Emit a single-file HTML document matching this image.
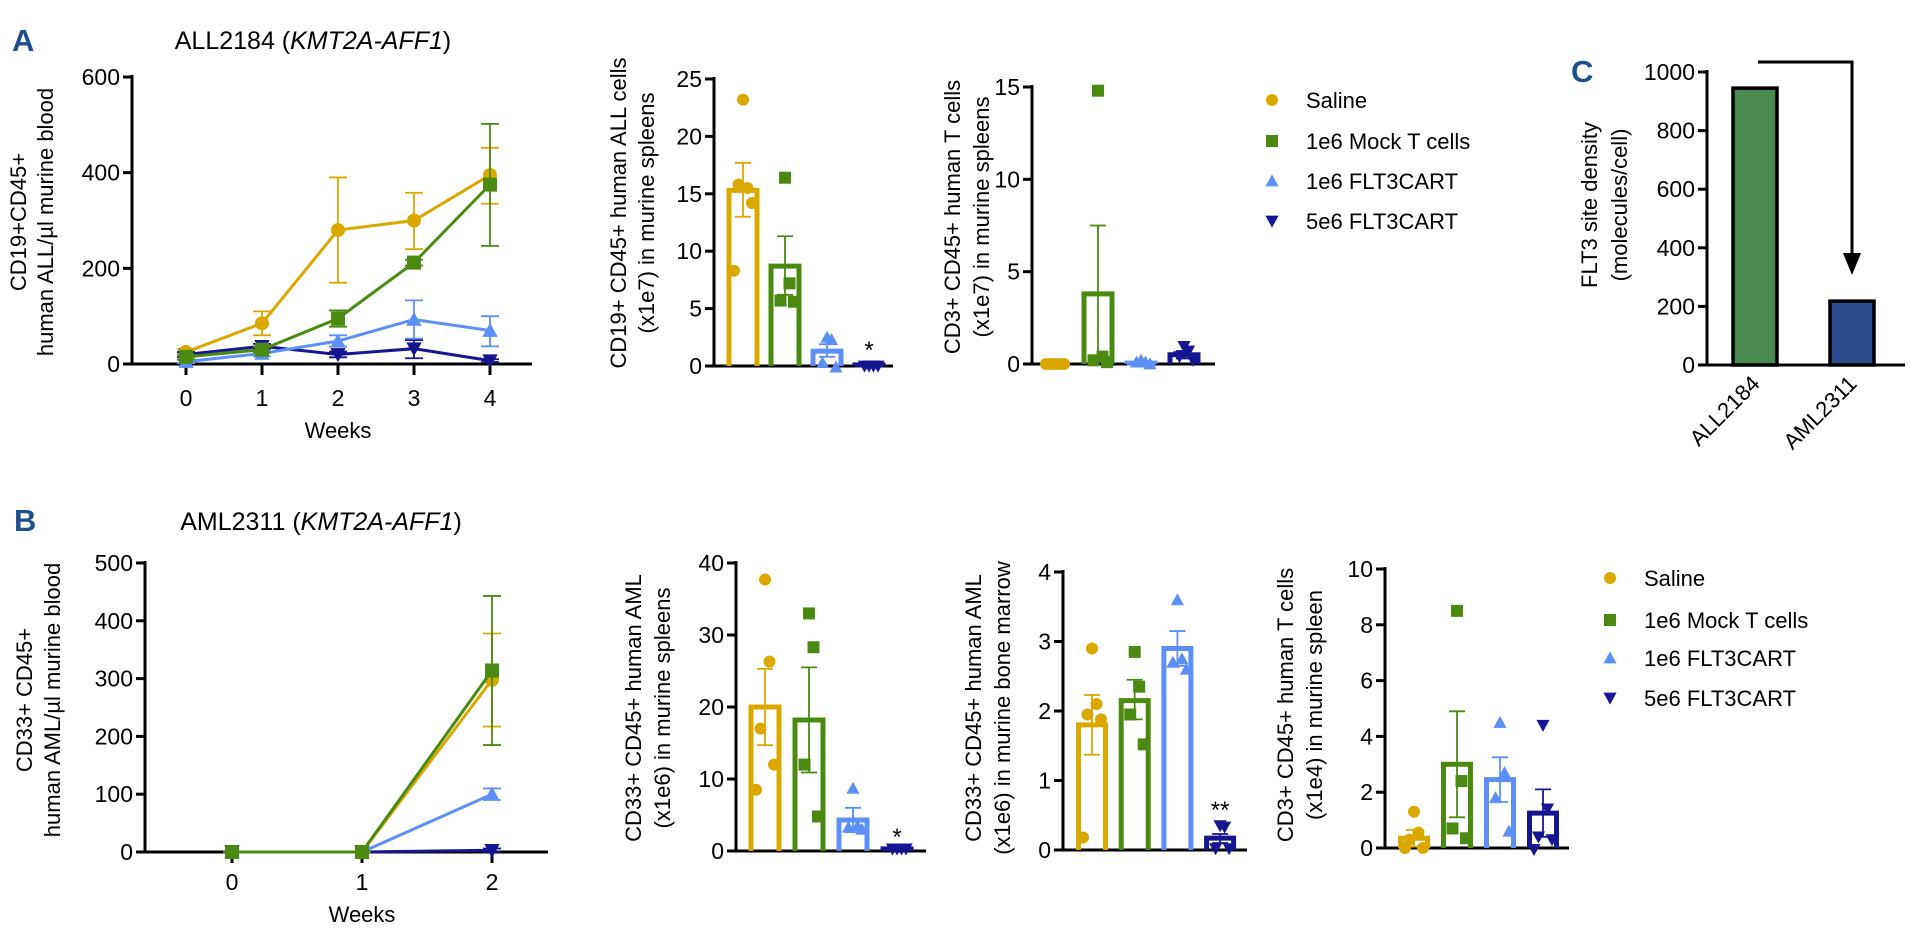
<!DOCTYPE html>
<html><head><meta charset="utf-8"><title>FLT3 CART figure</title>
<style>
html,body{margin:0;padding:0;background:#fff;}
svg{display:block;font-family:"Liberation Sans",Arial,sans-serif;}
</style></head>
<body>
<svg id="fig" width="1915" height="939" viewBox="0 0 1915 939" xmlns="http://www.w3.org/2000/svg">
<text x="12" y="51" font-size="31" font-weight="bold" fill="#1f4e8c">A</text>
<text x="14" y="531" font-size="31" font-weight="bold" fill="#1f4e8c">B</text>
<text x="1571" y="82" font-size="31" font-weight="bold" fill="#1f4e8c">C</text>
<text x="313" y="49" font-size="25" text-anchor="middle">ALL2184 (<tspan font-style="italic">KMT2A-AFF1</tspan>)</text>
<text x="321" y="530" font-size="25" text-anchor="middle">AML2311 (<tspan font-style="italic">KMT2A-AFF1</tspan>)</text>
</svg>
<script>
// ---------- data ----------
const groupNames = ['Saline','1e6 Mock T cells','1e6 FLT3CART','5e6 FLT3CART'];
const groupColors = ['#dba800','#4a8a10','#5c90f5','#161690'];
const groupShapes = ['circle','square','up','down'];

// Panel A line chart
const aWeeks = [0,1,2,3,4];
const aTicks = [0,200,400,600];
const aMean = [[25,85,280,300,395],[15,30,95,212,375],[5,22,48,93,70],[20,37,20,32,7]];
const aHi = [[30,110,390,358,452],[20,36,112,218,502],[8,28,60,133,100],[25,42,26,50,10]];
const aLo = [[20,60,170,240,335],[10,24,78,206,247],[2,16,36,53,37],[15,32,14,12,4]];

// Panel B line chart
const bWeeks = [0,1,2];
const bTicks = [0,100,200,300,400,500];
const bMean = [[0,0,298],[0,0,314],[0,0,100],[0,0,3]];
const bHi = [[0,0,378],[0,0,443],[0,0,110],[0,0,6]];
const bLo = [[0,0,217],[0,0,185],[0,0,90],[0,0,0]];

// Panel A bar 1: ALL cells in spleens (x1e7)
const a1Ticks = [0,5,10,15,20,25];
const a1Mean = [15.3,8.7,1.3,0.1];
const a1Hi = [17.7,11.3,1.9,0.15];
const a1Lo = [13.0,6.2,0.8,0.05];
const a1Pts = [[23.2,15.5,15.8,14.2,8.3],[16.4,7.2,5.7,5.6],[2.5,2.3,0.3,-0.1],[0,0,0,0]];

// Panel A bar 2: T cells in spleens (x1e7)
const a2Ticks = [0,5,10,15];
const a2Mean = [0,3.8,0.05,0.5];
const a2Hi = [0,7.5,0.08,0.7];
const a2Lo = [0,0.2,0.02,0.3];
const a2Pts = [[0,0,0,0,0],[14.8,0.4,0.2,0.1],[0.2,0.1,0.1,0],[0.95,0.7,0.4,0.2]];

// Panel B bar 1: AML in spleens (x1e6)
const b1Ticks = [0,10,20,30,40];
const b1Mean = [20,18.2,4.3,0.3];
const b1Hi = [25.3,25.5,6,0.4];
const b1Lo = [14.7,10.9,2.6,0.2];
const b1Pts = [[37.7,26.3,17,12,8.5],[33,28.3,12,4.8],[8.7,3.5,3.3,3.0],[0.3,0.3,0.3,0.3]];

// Panel B bar 2: AML in bone marrow (x1e6)
const b2Ticks = [0,1,2,3,4];
const b2Mean = [1.8,2.15,2.9,0.17];
const b2Hi = [2.23,2.45,3.15,0.23];
const b2Lo = [1.37,1.88,2.65,0.1];
const b2Pts = [[2.9,2.1,1.95,1.88,0.18],[2.85,2.35,1.95,1.52],[3.6,2.75,2.7,2.6],[0.35,0.33,0.02,0.02]];

// Panel B bar 3: T cells in spleen (x1e4)
const b3Ticks = [0,2,4,6,8,10];
const b3Mean = [0.35,3.0,2.45,1.25];
const b3Hi = [0.65,4.9,3.25,2.1];
const b3Lo = [0.05,1.1,1.65,0.4];
const b3Pts = [[1.3,0.55,0.3,0,0],[8.5,2.4,0.7,0.35],[4.5,2.7,1.8,0.6],[4.4,1.4,0.4,0.3,-0.05]];

// Panel C
const cCats = ['ALL2184','AML2311'];
const cVals = [945,218];
const cTicks = [0,200,400,600,800,1000];
const cColors = ['#4a8a4e','#2a4a8c'];

// ---------- helpers ----------
const NS='http://www.w3.org/2000/svg';
const svg=document.getElementById('fig');
function mk(tag,attrs,parent){const e=document.createElementNS(NS,tag);for(const k in attrs)e.setAttribute(k,attrs[k]);(parent||svg).appendChild(e);return e;}
function scaleY(v,y0,yTop,vmax){return y0-(v/vmax)*(y0-yTop);}

function marker(g,shape,x,y,r,color){
  let e;
  if(shape==='circle'){e=mk('circle',{cx:x,cy:y,r:r,fill:color},g);}
  else if(shape==='square'){e=mk('rect',{x:x-r,y:y-r,width:2*r,height:2*r,fill:color},g);}
  else if(shape==='up'){e=mk('polygon',{points:`${x-r*1.1},${y+r*0.9} ${x+r*1.1},${y+r*0.9} ${x},${y-r*1.1}`,fill:color},g);}
  else {e=mk('polygon',{points:`${x-r*1.1},${y-r*0.9} ${x+r*1.1},${y-r*0.9} ${x},${y+r*1.1}`,fill:color},g);}
  return e;
}

function yAxis(g,ax,y0,yTop,vmax,ticks,xEnd,fs){
  const a=mk('line',{x1:ax,y1:yTop-2,x2:ax,y2:y0,stroke:'#000','stroke-width':3},g);
  
  
  const b=mk('line',{x1:ax-1.5,y1:y0,x2:xEnd,y2:y0,stroke:'#000','stroke-width':3},g);
  
  
  ticks.forEach(t=>{
    const y=scaleY(t,y0,yTop,vmax);
    const tl=mk('line',{x1:ax-9,y1:y,x2:ax,y2:y,stroke:'#000','stroke-width':3},g);
    
    
    const tx=mk('text',{x:ax-12,y:y+8,'font-size':fs||23,'text-anchor':'end'},g);
    tx.textContent=t;
    
    
  });
}

function yLabel(g,lines,xs,cy,fs){
  lines.forEach((s,i)=>{
    const t=mk('text',{x:0,y:0,'font-size':fs||22,'text-anchor':'middle',transform:`translate(${xs[i]},${cy}) rotate(-90)`},g);
    t.textContent=s;
    
    
  });
}

function barChart(name,cfg,ticks,mean,hi,lo,pts){
  const g=mk('g',{});
  
  
  yAxis(g,cfg.ax,cfg.y0,cfg.yTop,cfg.vmax,ticks,cfg.xEnd);
  const w=cfg.bw;
  mean.forEach((m,i)=>{
    const cx=cfg.x0+i*cfg.step, col=groupColors[i];
    const yt=scaleY(m,cfg.y0,cfg.yTop,cfg.vmax);
    const r=mk('path',{d:`M${cx-w/2},${cfg.y0} L${cx-w/2},${yt} L${cx+w/2},${yt} L${cx+w/2},${cfg.y0}`,fill:'none',stroke:col,'stroke-width':5},g);
    
    
    const yh=scaleY(hi[i],cfg.y0,cfg.yTop,cfg.vmax), yl=scaleY(lo[i],cfg.y0,cfg.yTop,cfg.vmax);
    const eb=mk('path',{d:`M${cx},${yl} L${cx},${yh} M${cx-8},${yh} L${cx+8},${yh} M${cx-8},${yl} L${cx+8},${yl}`,stroke:col,'stroke-width':1.8,fill:'none'},g);
    
    
    const n=pts[i].length;
    pts[i].forEach((v,j)=>{
      const dx=n>1?(j%2===0?-1:1)*Math.ceil(j/2)*4.5:0;
      const p=marker(g,groupShapes[i],cx+dx*(j===0?0:1),scaleY(v,cfg.y0,cfg.yTop,cfg.vmax),6,col);
      
      
    });
  });
  (cfg.stars||[]).forEach(s=>{
    const t=mk('text',{x:cfg.x0+s.i*cfg.step,y:s.y,'font-size':24,'text-anchor':'middle'},g);
    t.textContent=s.t;
    
    
  });
  return g;
}

function lineChart(name,cfg,weeks,ticks,mean,hi,lo){
  const g=mk('g',{});
  
  
  yAxis(g,cfg.ax,cfg.y0,cfg.yTop,cfg.vmax,ticks,cfg.xEnd);
  const xs=w=>cfg.x0+(w-weeks[0])*cfg.step;
  weeks.forEach(w=>{
    const tl=mk('line',{x1:xs(w),y1:cfg.y0,x2:xs(w),y2:cfg.y0+11,stroke:'#000','stroke-width':3},g);
    
    
    const t=mk('text',{x:xs(w),y:cfg.tickY,'font-size':23,'text-anchor':'middle'},g);
    t.textContent=w;
    
    
  });
  const wt=mk('text',{x:xs(weeks[Math.floor(weeks.length/2)])+(weeks.length%2?0:-cfg.step/2),y:cfg.titleY,'font-size':22,'text-anchor':'middle'},g);
  wt.textContent='Weeks';
  
  
  const order=[3,2,0,1];
  order.forEach(i=>{
    const col=groupColors[i];
    const pts=weeks.map((w,k)=>xs(w)+','+scaleY(mean[i][k],cfg.y0,cfg.yTop,cfg.vmax)).join(' ');
    const pl=mk('polyline',{points:pts,fill:'none',stroke:col,'stroke-width':3},g);
    
    
    weeks.forEach((w,k)=>{
      const x=xs(w),yh=scaleY(hi[i][k],cfg.y0,cfg.yTop,cfg.vmax),yl=scaleY(lo[i][k],cfg.y0,cfg.yTop,cfg.vmax);
      const eb=mk('path',{d:`M${x},${yl} L${x},${yh} M${x-9},${yh} L${x+9},${yh} M${x-9},${yl} L${x+9},${yl}`,stroke:col,'stroke-width':1.8,fill:'none'},g);
      
      
      const m=marker(g,groupShapes[i],x,scaleY(mean[i][k],cfg.y0,cfg.yTop,cfg.vmax),7,col);
      
      
    });
  });
  return g;
}

function legend(name,x,textX,ys){
  const g=mk('g',{});
  
  
  groupNames.forEach((n,i)=>{
    const m=marker(g,groupShapes[i],x,ys[i],6,groupColors[i]);
    
    
    const t=mk('text',{x:textX,y:ys[i]+8,'font-size':22},g);
    t.textContent=n;
    
    
  });
}

// ---------- panel A ----------
const gA=lineChart('panel-a-line-chart',{ax:132,y0:364,yTop:77,vmax:600,xEnd:532,x0:186,step:76,tickY:406,titleY:438},aWeeks,aTicks,aMean,aHi,aLo);
yLabel(gA,['CD19+CD45+','human ALL/\u00b5l murine blood'],[26,53],222);

const gA1=barChart('panel-a-spleen-all-chart',{ax:714,y0:366,yTop:79,vmax:25,xEnd:893,x0:743,step:42,bw:28,stars:[{i:3,t:'*',y:358}]},a1Ticks,a1Mean,a1Hi,a1Lo,a1Pts);
yLabel(gA1,['CD19+ CD45+ human ALL cells','(x1e7) in murine spleens'],[626,654],213);

const gA2=barChart('panel-a-spleen-tcell-chart',{ax:1032,y0:364,yTop:87,vmax:15,xEnd:1215,x0:1055,step:43,bw:28},a2Ticks,a2Mean,a2Hi,a2Lo,a2Pts);
yLabel(gA2,['CD3+ CD45+ human T cells','(x1e7) in murine spleens'],[960,989],217);

legend('panel-a-legend',1272,1306,[100,141,181,221]);

// ---------- panel B ----------
const gB=lineChart('panel-b-line-chart',{ax:145,y0:852,yTop:563,vmax:500,xEnd:548,x0:232,step:130,tickY:890,titleY:922},bWeeks,bTicks,bMean,bHi,bLo);
yLabel(gB,['CD33+ CD45+','human AML/\u00b5l murine blood'],[32,60],700);

const gB1=barChart('panel-b-spleen-aml-chart',{ax:736,y0:851,yTop:563,vmax:40,xEnd:926,x0:765,step:44,bw:28,stars:[{i:3,t:'*',y:845}]},b1Ticks,b1Mean,b1Hi,b1Lo,b1Pts);
yLabel(gB1,['CD33+ CD45+ human AML','(x1e6) in murine spleens'],[641,670],708);

const gB2=barChart('panel-b-marrow-aml-chart',{ax:1063,y0:850,yTop:572,vmax:4,xEnd:1247,x0:1092,step:42.7,bw:27,stars:[{i:3,t:'**',y:818}]},b2Ticks,b2Mean,b2Hi,b2Lo,b2Pts);
yLabel(gB2,['CD33+ CD45+ human AML','(x1e6) in murine bone marrow'],[981,1010],708);

const gB3=barChart('panel-b-spleen-tcell-chart',{ax:1385,y0:848,yTop:569,vmax:10,xEnd:1569,x0:1414,step:43,bw:27},b3Ticks,b3Mean,b3Hi,b3Lo,b3Pts);
yLabel(gB3,['CD3+ CD45+ human T cells','(x1e4) in murine spleen'],[1293,1322],705);

legend('panel-b-legend',1610,1644,[578,620,658,698]);

// ---------- panel C ----------
const gC=mk('g',{});


const cAx=1707,cY0=365,cTop=72,cMax=1000,cX0=1755,cStep=97,cBw=44;
yAxis(gC,cAx,cY0,cTop,cMax,cTicks,1905);
yLabel(gC,['FLT3 site density','(molecules/cell)'],[1597,1627],205);
cVals.forEach((v,i)=>{
  const cx=cX0+i*cStep,yt=scaleY(v,cY0,cTop,cMax);
  const r=mk('rect',{x:cx-cBw/2,y:yt,width:cBw,height:cY0-yt,fill:cColors[i],stroke:'#000','stroke-width':3.5},gC);
  
  
  const t=mk('text',{x:0,y:0,'font-size':22,'text-anchor':'end',transform:`translate(${cx+6},${cY0+20}) rotate(-45)`},gC);
  t.textContent=cCats[i];
  
  
});
const arX1=1758,arX2=1852,arY=62,arTip=275;
const ar=mk('path',{d:`M${arX1},${arY} L${arX2},${arY} L${arX2},${arTip-20}`,fill:'none',stroke:'#000','stroke-width':3},gC);


const ah=mk('polygon',{points:`${arX2-9},${arTip-22} ${arX2+9},${arTip-22} ${arX2},${arTip}`,fill:'#000'},gC);


</script>
</body></html>
